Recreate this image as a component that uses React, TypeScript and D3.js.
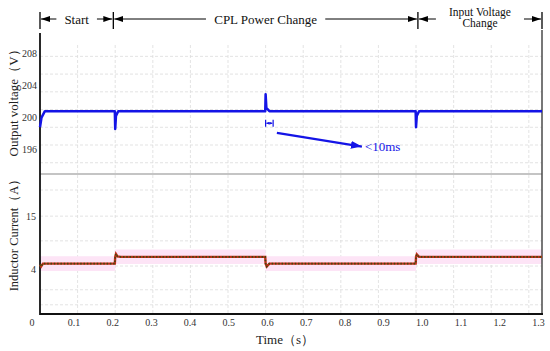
import React, { useRef, useEffect } from "react";
import * as d3 from "d3";

const W = 550;
const H = 351;

// output voltage trace (s, V)
const voltT = [0, 0.004, 0.013, 0.199, 0.2, 0.202, 0.208, 0.599, 0.6, 0.602, 0.61, 0.999, 1.0, 1.002, 1.008, 1.335];
const voltV = [198.8, 200.0, 200.8, 200.8, 198.6, 200.2, 200.8, 200.8, 202.9, 201.2, 200.8, 200.8, 198.8, 200.2, 200.8, 200.8];

// inductor current trace (s, A)
const curT = [0, 0.003, 0.008, 0.199, 0.2, 0.202, 0.206, 0.215, 0.599, 0.6, 0.603, 0.61, 0.999, 1.0, 1.002, 1.008, 1.335];
const curI = [5.0, 4.6, 5.2, 5.2, 6.6, 7.2, 6.7, 6.6, 6.6, 5.2, 4.6, 5.2, 5.2, 6.6, 7.1, 6.6, 6.6];

// pink tolerance band around current (step levels)
const bandT = [0, 0.2, 0.6, 1.0, 1.335];
const bandI = [5.2, 6.6, 5.2, 6.6, 6.6];
const bandHalf = 1.5;

const xTicks = [0, 0.1, 0.2, 0.3, 0.4, 0.5, 0.6, 0.7, 0.8, 0.9, 1.0, 1.1, 1.2, 1.3];
const xTickLabels = ["0", "0.1", "0.2", "0.3", "0.4", "0.5", "0.6", "0.7", "0.8", "0.9", "1.0", "1.1", "1.2", "1.3"];
const vTicks = [208, 204, 200, 196];
const iTicks = [15, 4];
const vGrid = [207.6, 205.4, 203.2, 201.0, 198.8, 196.6, 194.4];
const iGrid = [20.4, 15.0, 9.9, 4.7, -0.2, -3.3];

// phases marked along the top
const phaseBounds = [0, 0.195, 1.005, 1.335];
const phaseLabels = [["Start"], ["CPL Power Change"], ["Input Voltage", "Change"]];

// "<10ms" callout (s, V)
const markT = [0.6, 0.62];
const markV = 199.3;
const calloutFrom = [0.63, 198.1];
const calloutTo = [0.856, 196.4];
const calloutText = "<10ms";

const SERIF = "'Liberation Serif', 'Times New Roman', serif";
const BLUE = "#1414e6";

const measure = (txt: string, font: string) => {
  const ctx = document.createElement("canvas").getContext("2d")!;
  ctx.font = font;
  return ctx.measureText(txt).width;
};

const App = () => {
  const ref = useRef<SVGSVGElement>(null);

  useEffect(() => {
    const svg = d3.select(ref.current);
    svg.selectAll("*").remove();

    const left = 40, right = 542, top = 33, mid = 174, bottom = 314;

    const x = d3.scaleLinear().domain([0, 1.335]).range([left, right]);
    // tick labels in the original are spaced a bit wider than the grid
    const xLab = d3.scaleLinear().domain([0, 1.3]).range([35.3, 538.4]);
    const yV = d3.scaleLinear().domain([193, 210.5]).range([mid, top]);
    const yI = d3.scaleLinear().domain([-5.2, 23.7]).range([bottom, mid]);

    const defs = svg.append("defs");
    const mk = (id: string, color: string, w: number, h: number) =>
      defs.append("marker")
        .attr("id", id)
        .attr("viewBox", `0 0 ${w} ${h}`)
        .attr("refX", w).attr("refY", h / 2)
        .attr("markerWidth", w).attr("markerHeight", h)
        .attr("markerUnits", "userSpaceOnUse")
        .attr("orient", "auto")
        .append("path")
        .attr("d", `M0,0L${w},${h / 2}L0,${h}Z`)
        .attr("fill", color);
    mk("ah", "#000", 9, 6);
    mk("ahb", BLUE, 11, 8);
    mk("ahs", BLUE, 3, 3);

    // grid
    const grid = svg.append("g").attr("stroke", "#dcdcdc").attr("stroke-width", 0.8).attr("stroke-dasharray", "3,2");
    grid.selectAll("line.v").data(xTicks.slice(1)).join("line")
      .attr("x1", d => x(d)).attr("x2", d => x(d)).attr("y1", 45).attr("y2", bottom);
    grid.selectAll("line.hv").data(vGrid).join("line").attr("class", "hv")
      .attr("x1", left).attr("x2", right).attr("y1", d => yV(d)).attr("y2", d => yV(d));
    grid.selectAll("line.hi").data(iGrid).join("line").attr("class", "hi")
      .attr("x1", left).attr("x2", right).attr("y1", d => yI(d)).attr("y2", d => yI(d));

    // pink band
    const band = d3.range(bandT.length).map(i => [bandT[i], bandI[i]] as [number, number]);
    svg.append("path")
      .datum(band)
      .attr("d", d3.area<[number, number]>()
        .x(d => x(d[0]))
        .y0(d => yI(d[1] - bandHalf))
        .y1(d => yI(d[1] + bandHalf))
        .curve(d3.curveStepAfter))
      .attr("fill", "#fde4f6");

    // panel frame
    svg.append("line").attr("x1", left).attr("x2", right).attr("y1", mid).attr("y2", mid)
      .attr("stroke", "#b0b0b0").attr("stroke-width", 1.3);
    svg.append("line").attr("x1", right).attr("x2", right).attr("y1", 30).attr("y2", bottom)
      .attr("stroke", "#4a4a4a").attr("stroke-width", 1.5);
    svg.append("line").attr("x1", left).attr("x2", left).attr("y1", top).attr("y2", bottom + 1)
      .attr("stroke", "#111").attr("stroke-width", 1.8);
    svg.append("line").attr("x1", left).attr("x2", right + 1).attr("y1", bottom).attr("y2", bottom)
      .attr("stroke", "#111").attr("stroke-width", 2);

    // voltage
    const vData = d3.range(voltT.length).map(i => [voltT[i], voltV[i]] as [number, number]);
    svg.append("path").datum(vData)
      .attr("d", d3.line<[number, number]>().x(d => x(d[0])).y(d => yV(d[1])))
      .attr("fill", "none").attr("stroke", BLUE).attr("stroke-width", 2.5).attr("stroke-linejoin", "round");

    // current: red trace with olive ripple on top
    const iData = d3.range(curT.length).map(i => [curT[i], curI[i]] as [number, number]);
    const iLine = d3.line<[number, number]>().x(d => x(d[0])).y(d => yI(d[1]));
    svg.append("path").datum(iData).attr("d", iLine)
      .attr("fill", "none").attr("stroke", "#c0301a").attr("stroke-width", 2.4);
    svg.append("path").datum(iData).attr("d", iLine)
      .attr("fill", "none").attr("stroke", "#3f4a0e").attr("stroke-width", 1.6).attr("stroke-dasharray", "1.5,1.8");

    // tick labels
    const tick = svg.append("g").attr("font-family", SERIF).attr("font-size", 10).attr("fill", "#333");
    tick.selectAll("text.x").data(xTicks).join("text").attr("class", "x")
      .attr("x", (d, i) => (i === 0 ? 32 : xLab(d))).attr("y", 326)
      .attr("text-anchor", "middle").text((d, i) => xTickLabels[i]);
    tick.selectAll("text.v").data(vTicks).join("text").attr("class", "v")
      .attr("x", 37).attr("y", d => yV(d) + 3.5).attr("text-anchor", "end").text(d => d);
    tick.selectAll("text.i").data(iTicks).join("text").attr("class", "i")
      .attr("x", 36).attr("y", d => yI(d) + 3.5).attr("text-anchor", "end").text(d => d);

    // axis titles
    svg.append("text").attr("transform", "translate(18,100) rotate(-90)")
      .attr("text-anchor", "middle").attr("font-family", SERIF).attr("font-size", 13).attr("fill", "#222")
      .text("Output voltage（V）");
    svg.append("text").attr("transform", "translate(18,232) rotate(-90)")
      .attr("text-anchor", "middle").attr("font-family", SERIF).attr("font-size", 12.5).attr("fill", "#222")
      .text("Inductor Current（A）");
    svg.append("text").attr("x", 285).attr("y", 344)
      .attr("text-anchor", "middle").attr("font-family", SERIF).attr("font-size", 13).attr("fill", "#222")
      .text("Time（s）");

    // phase annotations
    const ann = svg.append("g");
    phaseBounds.forEach(b => {
      ann.append("line").attr("x1", x(b)).attr("x2", x(b)).attr("y1", 12).attr("y2", 29)
        .attr("stroke", "#000").attr("stroke-width", 1.3);
    });
    phaseLabels.forEach((lines, i) => {
      const x0 = x(phaseBounds[i]), x1 = x(phaseBounds[i + 1]);
      const cx = (x0 + x1) / 2;
      const fs = lines.length > 1 ? 11.5 : 13;
      const half = d3.max(lines, l => measure(l, `${fs}px ${SERIF}`))! / 2;
      const gap = lines.length > 1 ? 13 : 8;
      lines.forEach((l, j) => {
        ann.append("text").attr("x", cx)
          .attr("y", lines.length > 1 ? 16 + j * 11 : 23.5)
          .attr("text-anchor", "middle").attr("font-family", SERIF).attr("font-size", fs).attr("fill", "#111")
          .text(l);
      });
      ann.append("line").attr("x1", cx - half - gap).attr("x2", x0 + 1).attr("y1", 19).attr("y2", 19)
        .attr("stroke", "#000").attr("stroke-width", 1).attr("marker-end", "url(#ah)");
      ann.append("line").attr("x1", cx + half + gap).attr("x2", x1 - 1).attr("y1", 19).attr("y2", 19)
        .attr("stroke", "#000").attr("stroke-width", 1).attr("marker-end", "url(#ah)");
    });

    // <10ms callout
    const c = svg.append("g").attr("stroke", BLUE).attr("stroke-width", 1.2);
    markT.forEach(t => {
      c.append("line").attr("x1", x(t)).attr("x2", x(t)).attr("y1", yV(markV) - 3.5).attr("y2", yV(markV) + 3.5);
    });
    const mm = (markT[0] + markT[1]) / 2;
    c.append("line").attr("x1", x(mm)).attr("x2", x(markT[0]) + 0.8).attr("y1", yV(markV)).attr("y2", yV(markV))
      .attr("marker-end", "url(#ahs)");
    c.append("line").attr("x1", x(mm)).attr("x2", x(markT[1]) - 0.8).attr("y1", yV(markV)).attr("y2", yV(markV))
      .attr("marker-end", "url(#ahs)");
    svg.append("line")
      .attr("x1", x(calloutFrom[0])).attr("y1", yV(calloutFrom[1]))
      .attr("x2", x(calloutTo[0])).attr("y2", yV(calloutTo[1]))
      .attr("stroke", BLUE).attr("stroke-width", 2.2).attr("marker-end", "url(#ahb)");
    svg.append("text").attr("x", x(calloutTo[0]) + 3).attr("y", yV(calloutTo[1]) + 4.5)
      .attr("font-family", SERIF).attr("font-size", 13).attr("fill", BLUE)
      .text(calloutText);
  }, []);

  return (
    <svg
      ref={ref}
      width={W}
      height={H}
      style={{ position: "absolute", left: 0, top: 0, background: "#fff" }}
    />
  );
};

export default App;
